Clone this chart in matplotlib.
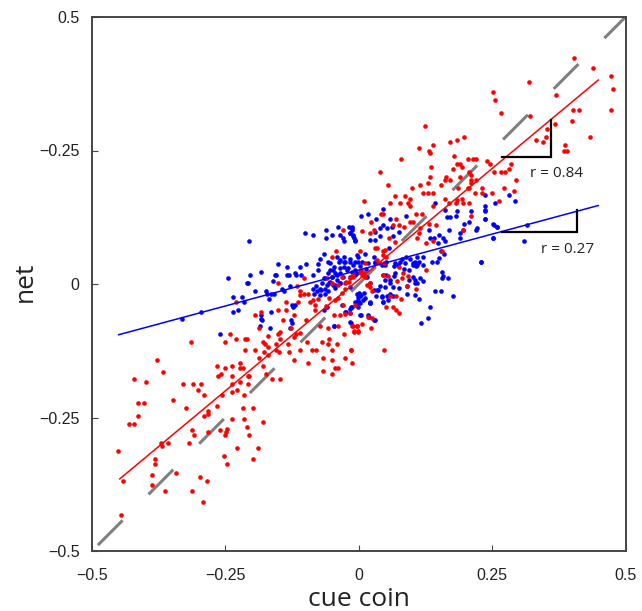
import matplotlib
matplotlib.use("Agg")
import matplotlib.pyplot as plt

plt.rcParams["lines.scale_dashes"] = False

# points
red_x = [-0.445, -0.314, -0.379, -0.366, -0.422, -0.399, -0.330, -0.310, -0.296, -0.301, -0.290, -0.349, -0.413, -0.403, -0.323,
         -0.414, -0.431, -0.421, -0.283, -0.282, -0.290, -0.265, -0.257, -0.313, -0.308, -0.282, -0.260, -0.247, -0.248, -0.250,
         -0.318, -0.371, -0.368, -0.358, -0.452, -0.382, -0.382, -0.388, -0.343, -0.388, -0.363, -0.442, -0.298, -0.285, -0.313,
         -0.292, -0.252, -0.247, -0.228, -0.189, -0.199, -0.205, -0.210, -0.216, -0.237, -0.217, -0.199, -0.180, -0.216, -0.237,
         -0.228, -0.237, -0.223, -0.208, -0.208, -0.206, -0.238, -0.263, -0.258, -0.250, -0.265, -0.238, -0.222, -0.222, -0.217,
         -0.174, -0.180, -0.187, -0.170, -0.177, -0.195, -0.214, -0.242, -0.250, -0.231, -0.214, -0.210, -0.180, -0.175, -0.171,
         -0.170,
         -0.029, -0.043, -0.050, -0.230, -0.152, -0.115, -0.111, -0.102, -0.096, -0.110, -0.085, -0.077, -0.092, -0.136, -0.114,
         -0.082, -0.082, -0.061, -0.055, -0.045, -0.038, -0.032, -0.025, -0.019, -0.032, -0.023, -0.011, -0.060, -0.102, -0.151,
         -0.137, -0.184, -0.194, -0.121, -0.142, -0.098, -0.187, -0.147, -0.152, -0.127, -0.156, -0.133, -0.147, -0.122, -0.117,
         -0.110, -0.097, -0.110, -0.088, -0.080, -0.069, -0.058, -0.041, -0.055, -0.027, -0.072, -0.038, -0.011, -0.003, -0.008,
         -0.002, -0.015, -0.050, -0.156, -0.131, -0.150, -0.122, -0.096, -0.067, -0.050, -0.026, -0.012, -0.044, -0.039, -0.067,
         -0.050, -0.163, -0.147,
         0.009, 0.059, 0.078, 0.093, 0.096, 0.140, 0.170, 0.183, 0.196, 0.207, 0.041, 0.046, 0.070, 0.108, 0.118,
         0.101, 0.096, 0.023, 0.065, 0.075, 0.084, 0.131, 0.145, 0.115, 0.112, 0.109, 0.006, 0.021, 0.029, 0.056,
         0.068, 0.126, 0.140, 0.195, 0.210, 0.031, 0.035, 0.046, 0.050, 0.046, 0.051, 0.003, 0.035, 0.040, 0.048,
         0.003, 0.009, 0.012, 0.006, -0.010, -0.016, 0.021, 0.015, 0.021, 0.025, 0.076, 0.083, 0.126, 0.046, 0.054,
         0.093, 0.071, 0.081, 0.090, 0.108, 0.059, 0.070, 0.079, 0.051, 0.065, 0.069, 0.076, -0.007, -0.016, 0.018,
         0.006, 0.023, -0.003, -0.013, -0.008, -0.002, -0.014, 0.048, 0.156,
         0.267, 0.124, 0.198, 0.185, 0.171, 0.139, 0.112, 0.131, 0.133, 0.080, 0.179, 0.204, 0.215, 0.220, 0.240,
         0.246, 0.185, 0.190, 0.193, 0.136, 0.177, 0.040, 0.206, 0.210, 0.253, 0.266, 0.275, 0.134, 0.189, 0.164,
         0.161, 0.171, 0.210, 0.220, 0.129, 0.210, 0.054, 0.114, 0.155, 0.100, 0.186, 0.204, 0.207, 0.231, 0.272,
         0.120, 0.129, 0.139, 0.218, 0.231, 0.249, 0.068, 0.087, 0.097, 0.162, 0.184, 0.193, 0.263,
         0.404, 0.440, 0.472, 0.476, 0.473, 0.320, 0.252, 0.255, 0.369, 0.321, 0.401, 0.413, 0.400, 0.368, 0.353,
         0.351, 0.332, 0.345, 0.434, 0.387, 0.385, 0.390, 0.285, 0.281, 0.295, 0.291,
         -0.029, -0.047, -0.036, -0.025, 0.025, -0.057, 0.005, 0.012, -0.039, -0.050, -0.026, 0.008]
red_y = [-0.433, -0.109, -0.143, -0.164, -0.178, -0.183, -0.188, -0.188, -0.188, -0.199, -0.208, -0.218, -0.223, -0.223, -0.233,
         -0.248, -0.263, -0.263, -0.238, -0.243, -0.248, -0.228, -0.208, -0.273, -0.283, -0.278, -0.273, -0.272, -0.278, -0.283,
         -0.298, -0.298, -0.303, -0.298, -0.313, -0.327, -0.338, -0.358, -0.353, -0.377, -0.387, -0.368, -0.362, -0.368, -0.387,
         -0.408, -0.323, -0.338, -0.308, -0.308, -0.328, -0.283, -0.268, -0.253, -0.253, -0.233, -0.233, -0.258, -0.208, -0.203,
         -0.198, -0.188, -0.183, -0.188, -0.173, -0.173, -0.173, -0.173, -0.168, -0.158, -0.153, -0.153, -0.148, -0.158, -0.158,
         -0.168, -0.153, -0.139, -0.133, -0.128, -0.123, -0.123, -0.093, -0.109, -0.103, -0.103, -0.103, -0.108, -0.113, -0.118,
         -0.098,
         0.101, 0.061, 0.050, -0.034, 0.001, -0.004, -0.014, -0.019, -0.019, -0.020, -0.030, -0.029, -0.033, -0.033, -0.033,
         -0.040, -0.048, -0.041, -0.027, -0.030, -0.027, -0.017, -0.010, 0.003, 0.013, 0.004, 0.013, 0.011, 0.011, -0.049,
         -0.049, -0.053, -0.058, -0.058, -0.068, -0.068, -0.083, -0.089, -0.094, -0.083, -0.113, -0.113, -0.103, -0.099, -0.094,
         -0.092, -0.108, -0.123, -0.123, -0.123, -0.108, -0.113, -0.113, -0.103, -0.094, -0.079, -0.079, -0.079, -0.079, -0.088,
         -0.088, -0.123, -0.123, -0.123, -0.128, -0.128, -0.143, -0.148, -0.138, -0.143, -0.138, -0.148, -0.158, -0.158, -0.163,
         -0.168, -0.178, -0.178,
         0.155, 0.151, 0.151, 0.151, 0.146, 0.146, 0.151, 0.151, 0.151, 0.151, 0.131, 0.131, 0.121, 0.131, 0.131,
         0.116, 0.116, 0.116, 0.111, 0.111, 0.106, 0.112, 0.111, 0.104, 0.095, 0.087, 0.100, 0.095, 0.101, 0.086,
         0.079, 0.076, 0.081, 0.101, 0.127, 0.067, 0.067, 0.061, 0.064, 0.054, 0.050, 0.061, 0.045, 0.039, 0.040,
         0.023, 0.020, 0.014, 0.017, 0.017, 0.011, 0.001, -0.002, -0.006, -0.014, 0.031, 0.021, 0.026, 0.017, 0.015,
         0.015, 0.006, 0.012, -0.004, -0.010, -0.023, -0.023, -0.029, -0.043, -0.043, -0.048, -0.054, -0.039, -0.055, -0.062,
         -0.074, -0.083, -0.078, -0.078, -0.089, -0.089, -0.123, -0.123, 0.061,
         0.320, 0.295, 0.275, 0.270, 0.265, 0.260, 0.255, 0.250, 0.245, 0.235, 0.240, 0.235, 0.235, 0.235, 0.230,
         0.225, 0.225, 0.225, 0.220, 0.220, 0.215, 0.210, 0.210, 0.205, 0.210, 0.210, 0.210, 0.200, 0.200, 0.200,
         0.195, 0.195, 0.195, 0.195, 0.190, 0.190, 0.185, 0.185, 0.185, 0.180, 0.180, 0.180, 0.180, 0.180, 0.180,
         0.170, 0.170, 0.170, 0.170, 0.170, 0.170, 0.165, 0.165, 0.160, 0.160, 0.157, 0.160, 0.156,
         0.424, 0.404, 0.389, 0.365, 0.325, 0.379, 0.360, 0.345, 0.354, 0.315, 0.325, 0.325, 0.305, 0.300, 0.290,
         0.275, 0.270, 0.265, 0.275, 0.260, 0.250, 0.250, 0.225, 0.215, 0.195, 0.175,
         -0.039, -0.058, -0.058, -0.057, -0.064, -0.083, 0.026, 0.039, -0.002, 0.002, 0.002, 0.020]

blue_x = [-0.206, -0.101, -0.086, -0.061, -0.062, -0.050, -0.038, -0.036, -0.029, -0.027, -0.019, -0.012, -0.016, -0.011, -0.009,
          -0.007, -0.013, -0.065, -0.073, -0.076, -0.058, -0.041, -0.027, -0.001, -0.037, -0.028, -0.016, -0.002, -0.152, -0.135,
          -0.110, -0.099, -0.184, -0.203, -0.246, -0.209, -0.207, -0.157, -0.155, -0.161, -0.135, -0.130, -0.120, -0.117, -0.108,
          -0.086, -0.077, -0.053, -0.047, -0.057, -0.044, -0.050, -0.035, -0.022, -0.028, -0.007, -0.004, -0.063, -0.053, -0.041,
          -0.044, -0.060, -0.069, -0.080, -0.072, -0.085, -0.063, -0.078, -0.083, -0.072, -0.057, -0.035, -0.128, -0.144, -0.141,
          -0.158, -0.165, -0.174, -0.172, -0.169, -0.194, -0.218, -0.236, -0.216, -0.227, -0.236, -0.125, -0.119, -0.123, -0.165,
          -0.183, -0.184, -0.181, -0.186, -0.166, -0.127, -0.125, -0.128, -0.261, -0.015, -0.047, -0.025, -0.032, -0.060, -0.065,
          -0.003, -0.002, -0.001, -0.017, -0.295, -0.332,
          0.005, 0.017, 0.046, 0.032, 0.058, 0.089, 0.143, 0.162, 0.166, 0.171, 0.185, 0.183, 0.210, 0.237, 0.237,
          0.255, 0.237, 0.206, 0.197, 0.196, 0.220, 0.222, 0.252, 0.260, 0.252, 0.169, 0.189, 0.190, 0.131, 0.134,
          0.141, 0.151, 0.158, 0.162, 0.148, 0.155, 0.160, 0.230, 0.151, 0.146, 0.138, 0.121, 0.109, 0.089, 0.096,
          0.081, 0.106, 0.112, 0.101, 0.109, 0.121, 0.073, 0.066, 0.085, 0.095, 0.049, 0.018, 0.006, 0.012, 0.028,
          0.031, -0.007, -0.010, -0.013, 0.003, 0.014, 0.156, 0.158, 0.156, 0.168, 0.121, 0.114, 0.106, 0.109, 0.095,
          0.091, 0.066, 0.059, 0.050, 0.046, 0.065, 0.075, 0.059, 0.050, 0.040, 0.037, 0.028, 0.032, 0.043, 0.053,
          0.065, 0.091, 0.106, 0.112, 0.143, 0.155, 0.177, 0.134, 0.129, 0.116, 0.045, 0.021, 0.003, 0.009, 0.000,
          0.012, -0.007, -0.013, 0.003, 0.018, 0.029, 0.021,
          -0.013, -0.016, -0.010, -0.007, 0.046, 0.040, 0.053, 0.062, 0.031, 0.021, 0.031, 0.040, 0.065, 0.075, 0.056,
          0.237, 0.282, 0.293, 0.237, 0.237, 0.253, 0.259, 0.252, 0.315, 0.310, 0.229,
          -0.054, -0.035, -0.026, -0.016, -0.004, -0.035, -0.020, -0.048, -0.041, -0.030, -0.051, -0.066, -0.016, -0.007, -0.035,
          -0.048, -0.056, 0.021, 0.015, 0.030, 0.044, 0.052, -0.016,
          -0.070, -0.063, -0.044, -0.001, 0.005, 0.008, -0.002, 0.002, 0.021, -0.006, -0.015, -0.024, -0.016, 0.004, 0.019,
          0.030, -0.016, -0.046, 0.043, 0.046, 0.034, 0.055,
          0.077, 0.068, 0.102, 0.108, 0.068, 0.052, 0.102, 0.058, 0.105, 0.086]
blue_y = [0.081, 0.096, 0.091, 0.101, 0.086, 0.091, 0.106, 0.091, 0.086, 0.081, 0.106, 0.106, 0.096, 0.091, 0.086,
          0.081, 0.101, 0.056, 0.046, 0.038, 0.042, 0.051, 0.051, 0.051, 0.042, 0.042, 0.046, 0.042, 0.037, 0.031,
          0.031, 0.037, 0.022, 0.016, 0.012, 0.001, 0.001, 0.016, 0.016, 0.006, 0.016, 0.016, 0.021, 0.016, 0.016,
          0.016, 0.026, 0.026, 0.031, 0.020, 0.020, 0.014, 0.020, 0.026, 0.031, 0.026, 0.020, 0.011, 0.004, 0.008,
          -0.002, -0.002, 0.001, -0.004, -0.010, -0.010, -0.010, -0.014, -0.019, -0.020, -0.014, 0.001, -0.004, -0.009, -0.014,
          -0.019, -0.019, -0.014, -0.019, -0.029, -0.014, -0.024, -0.024, -0.033, -0.049, -0.053, -0.039, -0.039, -0.044, -0.053,
          -0.058, -0.065, -0.068, -0.078, -0.083, -0.067, -0.073, -0.083, -0.094, -0.073, -0.079, -0.053, -0.039, -0.044, -0.048,
          -0.019, -0.030, -0.044, -0.046, -0.053, -0.065,
          0.127, 0.131, 0.141, 0.121, 0.121, 0.127, 0.151, 0.139, 0.126, 0.126, 0.136, 0.127, 0.137, 0.146, 0.139,
          0.151, 0.121, 0.116, 0.112, 0.101, 0.101, 0.105, 0.112, 0.106, 0.086, 0.101, 0.095, 0.086, 0.101, 0.087,
          0.087, 0.092, 0.087, 0.081, 0.077, 0.061, 0.056, 0.041, 0.048, 0.041, 0.041, 0.051, 0.051, 0.051, 0.046,
          0.046, 0.041, 0.041, 0.035, 0.035, 0.035, 0.035, 0.033, 0.029, 0.026, 0.036, 0.039, 0.042, 0.057, 0.050,
          0.042, 0.042, 0.036, 0.023, 0.034, 0.029, 0.023, 0.015, 0.011, 0.011, 0.006, 0.011, 0.008, 0.001, 0.008,
          -0.004, 0.015, 0.008, 0.008, 0.017, -0.005, -0.008, -0.018, -0.006, -0.004, -0.011, -0.011, -0.023, -0.023, -0.023,
          -0.023, -0.018, -0.020, -0.028, -0.013, -0.013, -0.023, -0.043, -0.063, -0.073, -0.033, -0.033, -0.023, -0.017, -0.017,
          -0.027, -0.033, -0.043, -0.058, -0.058, -0.068, -0.036,
          0.104, 0.095, 0.089, 0.082, 0.111, 0.104, 0.104, 0.107, 0.098, 0.082, 0.082, 0.089, 0.089, 0.098, 0.067,
          0.166, 0.166, 0.156, 0.136, 0.121, 0.111, 0.106, 0.086, 0.111, 0.081, 0.041,
          0.039, 0.045, 0.041, 0.041, 0.054, 0.030, 0.030, 0.026, 0.017, 0.013, 0.013, 0.011, 0.013, 0.017, 0.002,
          -0.002, 0.002, 0.002, 0.013, 0.039, 0.036, 0.041, -0.006,
          -0.011, -0.018, -0.008, -0.024, -0.021, -0.030, -0.033, -0.036, -0.036, -0.039, -0.043, -0.052, -0.055, -0.058, -0.061,
          -0.068, -0.071, -0.078, -0.024, -0.033, -0.011, -0.030,
          0.042, 0.039, 0.039, 0.033, 0.020, 0.017, 0.014, 0.001, 0.001, 0.039]

# fit lines and identity
red_fit_x = [-0.448, 0.449]
red_fit_y = [-0.365, 0.382]
blue_fit_x = [-0.450, 0.449]
blue_fit_y = [-0.095, 0.147]
identity = [-0.489, 0.5]

# slope triangles
red_tri_x = [0.268, 0.360, 0.360]
red_tri_y = [0.237, 0.237, 0.308]
blue_tri_x = [0.268, 0.410, 0.410]
blue_tri_y = [0.098, 0.098, 0.139]

ticks = [-0.5, -0.25, 0, 0.25, 0.5]
x_labels = ["\u22120.5", "\u22120.25", "0", "0.25", "0.5"]
y_labels = ["\u22120.5", "\u22120.25", "0", "\u22120.25", "0.5"]


def main():
    fig = plt.figure(figsize=(6.42, 6.11), dpi=100)
    ax = fig.add_axes([92 / 642, 1 - 551 / 611, 533.5 / 642, 534 / 611])

    # dashes are in points here, scale_dashes is off
    ax.plot(identity, identity, color="#808080", lw=2.2, dashes=(25.2, 26.4), zorder=1)

    ax.scatter(blue_x, blue_y, s=11, color="#0000ff", linewidths=0, zorder=2)
    ax.scatter(red_x, red_y, s=11, color="#ff0000", linewidths=0, zorder=3)

    ax.plot(red_fit_x, red_fit_y, color="#ff0000", lw=1.1, zorder=4)
    ax.plot(blue_fit_x, blue_fit_y, color="#0000ff", lw=1.1, zorder=4)

    ax.plot(red_tri_x, red_tri_y, color="black", lw=1.6, solid_joinstyle="miter", zorder=5)
    ax.plot(blue_tri_x, blue_tri_y, color="black", lw=1.6, solid_joinstyle="miter", zorder=5)

    ax.text(0.371, 0.206, "r = 0.84", fontsize=11, family="Open Sans", color="#222222", ha="center", va="center")
    ax.text(0.391, 0.065, "r = 0.27", fontsize=11, family="Open Sans", color="#222222", ha="center", va="center")

    ax.set_xlim(-0.5, 0.5)
    ax.set_ylim(-0.5, 0.5)
    ax.set_xticks(ticks)
    ax.set_yticks(ticks)
    ax.set_xticklabels(x_labels, family="Liberation Sans", fontsize=11.5, color="#222222")
    ax.set_yticklabels(y_labels, family="Liberation Sans", fontsize=11.5, color="#222222")
    ax.tick_params(axis="x", direction="in", length=4, width=0.8, color="#444444", pad=12)
    ax.tick_params(axis="y", direction="in", length=4, width=0.8, color="#444444", pad=9)

    for side in ax.spines.values():
        side.set_linewidth(1.4)
        side.set_color("#444444")

    ax.set_xlabel("cue coin", family="Open Sans", fontsize=19, color="#222222", va="center")
    ax.set_ylabel("net", family="Open Sans", fontsize=19, color="#222222", va="center")
    ax.xaxis.set_label_coords(0.5, -49 / 534)
    ax.yaxis.set_label_coords(-67 / 533.5, 0.504)

    fig.savefig("out.png", dpi=100)
    plt.close(fig)


if __name__ == "__main__":
    main()
